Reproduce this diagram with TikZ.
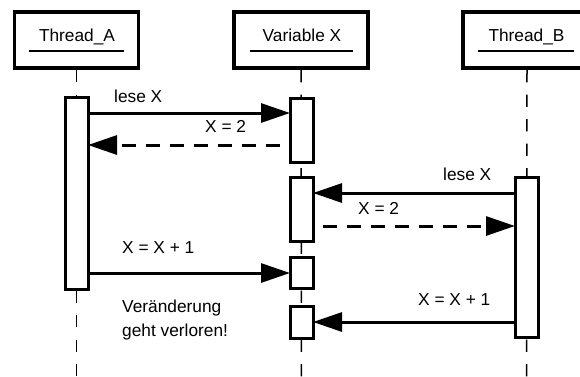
\documentclass[tikz,border=0pt]{standalone}
\usepackage{fontspec}
\setmainfont{Liberation Sans}
\usetikzlibrary{arrows.meta,backgrounds}
\begin{document}
\begin{tikzpicture}[x=1pt,y=-1pt,
  head/.style={draw,line width=3.5pt,fill=white,minimum height=56pt,inner sep=0pt,outer sep=0pt},
  act/.style={draw,line width=3pt,fill=white,minimum width=23pt,inner sep=0pt,outer sep=0pt},
  life/.style={line width=1.5pt,dash pattern=on 12.25pt off 12.25pt,dash phase=22.5pt},
  msg/.style={line width=3pt,-{Triangle[length=29pt,width=19pt]}},
  reply/.style={msg,dash pattern=on 14pt off 10pt,dash phase=14pt},
  txt/.style={inner sep=0pt,font=\fontsize{17.3pt}{24.5pt}\selectfont},
  lbl/.style={txt,anchor=base west},
  ttl/.style={txt,anchor=base},
  uline/.style={line width=1.5pt}
]
\useasboundingbox (0,0) rectangle (580,376);
\clip (0,0) rectangle (580,376);

% header boxes
\node[head,minimum width=124pt] (ha) at (76.5,40) {};
\node[head,minimum width=134pt] (hv) at (301,40) {};
\node[head,minimum width=128pt] (hb) at (527,40) {};
\node[ttl] (ta) at (77,41.5) {Thread\_A};
\node[ttl] (tv) at (302,41.5) {Variable X};
\node[ttl] (tb) at (526.5,41.5) {Thread\_B};
\draw[uline] ([xshift=-47.5pt,yshift=-11pt]ha.center) -- ([xshift=47.5pt,yshift=-11pt]ha.center);
\draw[uline] ([xshift=-51pt,yshift=-11pt]hv.center) -- ([xshift=52pt,yshift=-11pt]hv.center);
\draw[uline] ([xshift=-49pt,yshift=-11pt]hb.center) -- ([xshift=47pt,yshift=-11pt]hb.center);

% activation boxes
\node[act,minimum height=192pt] (a1) at (76.5,193) {};
\node[act,minimum height=64pt] (v1) at (301.5,130) {};
\node[act,minimum height=64pt] (v2) at (301.5,209) {};
\node[act,minimum height=31pt] (v3) at (301.5,272.5) {};
\node[act,minimum height=32pt] (v4) at (301.5,322) {};
\node[act,minimum height=160pt] (b1) at (526.5,257) {};

% lifelines
\coordinate (enda) at (76.5,380);
\coordinate (endv) at (301.5,380);
\coordinate (endb) at (526.5,380);
\begin{scope}[on background layer]
\draw[life] (ha.south) -- (enda);
\draw[life] (hv.south) -- (endv);
\draw[life] (hb.south) -- (endb);
\end{scope}

% messages
\draw[msg] (a1.east |- 0,113) -- (v1.west |- 0,113);
\draw[reply] (v1.west |- 0,145) -- (a1.east |- 0,145);
\draw[msg] (b1.west |- 0,193) -- (v2.east |- 0,193);
\draw[reply] (v2.east |- 0,226) -- (b1.west |- 0,226);
\draw[msg] (a1.east |- 0,273) -- (v3.west |- 0,273);
\draw[msg] (b1.west |- 0,322) -- (v4.east |- 0,322);

% labels
\node[lbl] (l1) at (114,102) {lese X};
\node[lbl] (l2) at (205,132) {X = 2};
\node[lbl] (l3) at (443,180) {lese X};
\node[lbl] (l4) at (358,214) {X = 2};
\node[lbl] (l5) at (122,253) {X = X + 1};
\node[lbl] (l6) at (418,305) {X = X + 1};
\node[lbl] (n1) at (122,312) {Veränderung};
\node[lbl] (n2) at (122,336) {geht verloren!};
\end{tikzpicture}
\end{document}
